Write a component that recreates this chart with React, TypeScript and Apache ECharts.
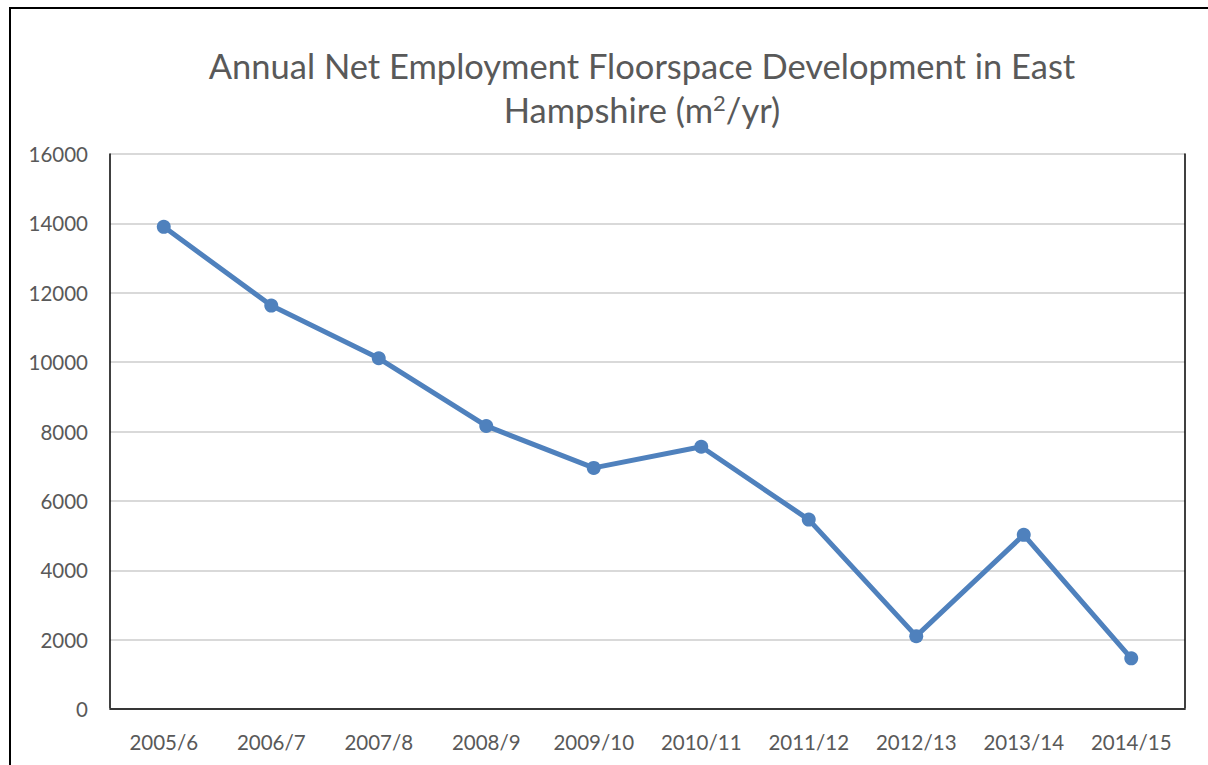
import React, { useEffect, useRef } from "react";
import * as echarts from "echarts";

const categories = ["2005/6", "2006/7", "2007/8", "2008/9", "2009/10", "2010/11", "2011/12", "2012/13", "2013/14", "2014/15"];
const floorspace = [13900, 11630, 10110, 8160, 6950, 7560, 5460, 2100, 5020, 1460];
const yTicks = { min: 0, max: 16000, interval: 2000 };

export default function App() {
  const ref = useRef<HTMLDivElement>(null);
  useEffect(() => {
    const chart = echarts.init(ref.current!, null, { renderer: "svg" });
    const font = "Lato";
    chart.setOption({
      animation: false,
      backgroundColor: "#ffffff",
      title: {
        text: "Annual Net Employment Floorspace Development in East\nHampshire (m{sup|2}/yr)",
        left: 637,
        top: 38,
        textAlign: "center",
        textStyle: {
          fontFamily: font,
          fontSize: 34.5,
          fontWeight: "normal",
          color: "#595959",
          lineHeight: 44,
          rich: {
            sup: { fontFamily: font, fontSize: 22, color: "#595959", padding: [0, 0, 14, 0] },
          },
        },
      },
      graphic: [
        {
          type: "rect",
          shape: { x: 10, y: 8, width: 1400, height: 900 },
          style: { fill: "none", stroke: "#000", lineWidth: 2 },
          silent: true,
        },
      ],
      grid: { left: 110, top: 154, right: 23, bottom: 56, containLabel: false },
      xAxis: [
        {
          type: "category",
          data: categories,
          boundaryGap: true,
          axisLine: { show: true, lineStyle: { color: "#d9d9d9", width: 2 } },
          axisTick: { show: false },
          axisLabel: { fontFamily: font, fontSize: 20.5, color: "#595959", margin: 22 },
        },
        {
          type: "category",
          data: categories,
          position: "top",
          axisLine: { show: true, lineStyle: { color: "#000", width: 1.5 } },
          axisTick: { show: false },
          axisLabel: { show: false },
        },
      ],
      yAxis: [
        {
          type: "value",
          min: yTicks.min,
          max: yTicks.max,
          interval: yTicks.interval,
          axisLine: { show: true, lineStyle: { color: "#000", width: 1.5 } },
          axisTick: { show: false },
          splitLine: { lineStyle: { color: "#d9d9d9", width: 2 } },
          axisLabel: { fontFamily: font, fontSize: 20.5, color: "#595959", margin: 22, formatter: (v: number) => String(v) },
        },
        {
          type: "value",
          min: yTicks.min,
          max: yTicks.max,
          interval: yTicks.interval,
          position: "right",
          axisLine: { show: true, lineStyle: { color: "#000", width: 1.5 } },
          axisTick: { show: false },
          splitLine: { show: false },
          axisLabel: { show: false },
        },
      ],
      series: [
        {
          type: "line",
          data: floorspace,
          symbol: "circle",
          symbolSize: 14,
          lineStyle: { color: "#4f81bd", width: 5 },
          itemStyle: { color: "#4f81bd" },
          z: 5,
        },
      ],
    });
    return () => chart.dispose();
  }, []);
  return <div ref={ref} style={{ position: "fixed", left: 0, top: 0, width: 1208, height: 765 }} />;
}
